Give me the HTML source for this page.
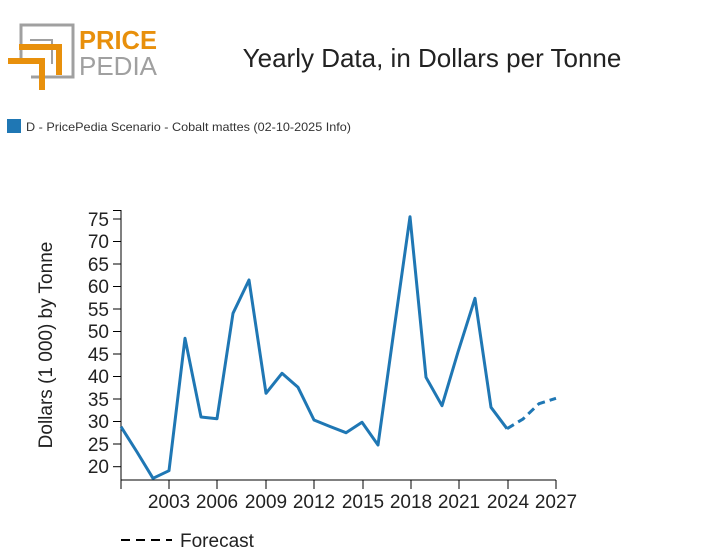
<!DOCTYPE html>
<html><head><style>
body{margin:0;background:#fff;width:712px;height:555px;overflow:hidden;font-family:"Liberation Sans",sans-serif;}
</style></head><body>
<svg width="712" height="555" xmlns="http://www.w3.org/2000/svg" font-family="Liberation Sans, sans-serif">
<!-- logo -->
<polyline points="21,64 21,25 73,25 73,77 31,77" fill="none" stroke="#a0a0a0" stroke-width="3"/>
<polyline points="30,40 52,40 52,64" fill="none" stroke="#a0a0a0" stroke-width="2"/>
<polyline points="8,61 42,61 42,90" fill="none" stroke="#e8900c" stroke-width="6"/>
<polyline points="19,47 59,47 59,75" fill="none" stroke="#e8900c" stroke-width="6"/>
<text x="79" y="49" font-size="26" font-weight="bold" fill="#e8900c" textLength="78" lengthAdjust="spacingAndGlyphs">PRICE</text>
<text x="79" y="75" font-size="26" fill="#a0a0a0" textLength="78" lengthAdjust="spacingAndGlyphs">PEDIA</text>
<text x="432" y="67" font-size="26" text-anchor="middle" fill="#222">Yearly Data, in Dollars per Tonne</text>
<!-- legend -->
<rect x="7" y="119" width="14" height="14" fill="#1f77b4"/>
<text x="26" y="131" font-size="12" fill="#333" textLength="325" lengthAdjust="spacingAndGlyphs">D - PricePedia Scenario - Cobalt mattes (02-10-2025 Info)</text>
<!-- axes -->
<line x1="121" y1="210" x2="121" y2="480" stroke="#000"/>
<line x1="121" y1="480" x2="556" y2="480" stroke="#000"/>
<g stroke="#000">
<line x1="113" y1="210.5" x2="121" y2="210.5"/>
<line x1="113" y1="219" x2="121" y2="219"/><line x1="113" y1="241.5" x2="121" y2="241.5"/><line x1="113" y1="264" x2="121" y2="264"/><line x1="113" y1="286.5" x2="121" y2="286.5"/><line x1="113" y1="309" x2="121" y2="309"/><line x1="113" y1="331.5" x2="121" y2="331.5"/><line x1="113" y1="354" x2="121" y2="354"/><line x1="113" y1="376.5" x2="121" y2="376.5"/><line x1="113" y1="399" x2="121" y2="399"/><line x1="113" y1="421.5" x2="121" y2="421.5"/><line x1="113" y1="444" x2="121" y2="444"/><line x1="113" y1="466.7" x2="121" y2="466.7"/>
<line x1="121" y1="480" x2="121" y2="489"/><line x1="169" y1="480" x2="169" y2="489"/><line x1="217" y1="480" x2="217" y2="489"/><line x1="266" y1="480" x2="266" y2="489"/><line x1="314" y1="480" x2="314" y2="489"/><line x1="363" y1="480" x2="363" y2="489"/><line x1="411" y1="480" x2="411" y2="489"/><line x1="459" y1="480" x2="459" y2="489"/><line x1="508" y1="480" x2="508" y2="489"/><line x1="556" y1="480" x2="556" y2="489"/>
</g>
<g font-size="19" fill="#222" text-anchor="end">
<text x="109" y="226">75</text><text x="109" y="248">70</text><text x="109" y="271">65</text><text x="109" y="293">60</text><text x="109" y="316">55</text><text x="109" y="338">50</text><text x="109" y="361">45</text><text x="109" y="383">40</text><text x="109" y="406">35</text><text x="109" y="428">30</text><text x="109" y="451">25</text><text x="109" y="473">20</text>
</g>
<g font-size="19" fill="#222" text-anchor="middle">
<text x="169" y="508">2003</text><text x="217" y="508">2006</text><text x="266" y="508">2009</text><text x="314" y="508">2012</text><text x="363" y="508">2015</text><text x="411" y="508">2018</text><text x="459" y="508">2021</text><text x="508" y="508">2024</text><text x="556" y="508">2027</text>
</g>
<text transform="translate(52,345) rotate(-90)" font-size="19" fill="#222" text-anchor="middle">Dollars (1 000) by Tonne</text>
<!-- series -->
<polyline fill="none" stroke="#1f77b4" stroke-width="3" stroke-linejoin="round" points="121,426.7 137,452 153,478.3 169,470.7 185,338.3 201,417 217,418.7 233,313.3 249,280 266,393.3 282,373.3 298,387.3 314,420 330,426.5 346,432.7 362,422.3 378,445 394,330 410,216.7 426,377.3 442,405.7 458,352 475,298.3 491,407.3 507,428.7"/>
<polyline fill="none" stroke="#1f77b4" stroke-width="3" stroke-dasharray="8,5" points="507,428.7 523,419 539,403.7 556,398.3"/>
<line x1="121" y1="540" x2="172" y2="540" stroke="#000" stroke-width="2" stroke-dasharray="9,6"/>
<text x="180" y="547" font-size="19" fill="#222">Forecast</text>
</svg>
</body></html>
